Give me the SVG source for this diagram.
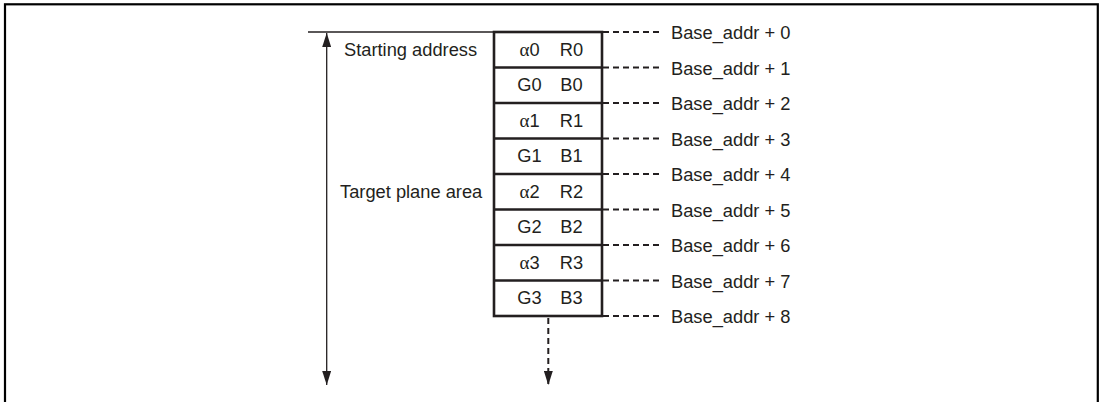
<svg xmlns="http://www.w3.org/2000/svg" width="1102" height="402" viewBox="0 0 1102 402">
<style>
text{font-family:"Liberation Sans",Arial,sans-serif;font-size:18.3px;fill:#231f20}
.cell{text-anchor:middle}
.a{font-family:"Liberation Serif","Times New Roman",serif;font-size:19px}
.box{fill:none;stroke:#231f20;stroke-width:2.6}
.dash{stroke:#231f20;stroke-width:2;stroke-dasharray:6 4;fill:none}
.thin{stroke:#231f20;stroke-width:1.3;fill:none}
</style>
<defs>
<marker id="ah" viewBox="0 0 14 9" refX="14" refY="4.5" markerWidth="14" markerHeight="9" markerUnits="userSpaceOnUse" orient="auto">
<path d="M0,0 L14,4.5 L0,9 Z" fill="#231f20"/>
</marker>
</defs>
<rect x="5" y="4.3" width="1092.8" height="420" fill="none" stroke="#000" stroke-width="2.2"/>
<g id="labels">
<text x="344" y="55.5">Starting address</text>
<text x="340" y="197.5">Target plane area</text>
</g>
<g id="memory">
<rect class="box" x="494" y="32" width="108" height="284"/>
<path class="box" d="M494,67.5H602M494,103H602M494,138.5H602M494,174H602M494,209.5H602M494,245H602M494,280.5H602"/>
<text class="cell" x="529.5" y="55.5"><tspan class="a">α</tspan>0</text><text class="cell" x="571.5" y="55.5">R0</text>
<text class="cell" x="529.5" y="91">G0</text><text class="cell" x="571.5" y="91">B0</text>
<text class="cell" x="529.5" y="126.5"><tspan class="a">α</tspan>1</text><text class="cell" x="571.5" y="126.5">R1</text>
<text class="cell" x="529.5" y="162">G1</text><text class="cell" x="571.5" y="162">B1</text>
<text class="cell" x="529.5" y="197.5"><tspan class="a">α</tspan>2</text><text class="cell" x="571.5" y="197.5">R2</text>
<text class="cell" x="529.5" y="233">G2</text><text class="cell" x="571.5" y="233">B2</text>
<text class="cell" x="529.5" y="268.5"><tspan class="a">α</tspan>3</text><text class="cell" x="571.5" y="268.5">R3</text>
<text class="cell" x="529.5" y="304">G3</text><text class="cell" x="571.5" y="304">B3</text>
</g>
<g id="addresses">
<text x="671" y="39.3">Base_addr + 0</text>
<text x="671" y="74.8">Base_addr + 1</text>
<text x="671" y="110.3">Base_addr + 2</text>
<text x="671" y="145.8">Base_addr + 3</text>
<text x="671" y="181.3">Base_addr + 4</text>
<text x="671" y="216.8">Base_addr + 5</text>
<text x="671" y="252.3">Base_addr + 6</text>
<text x="671" y="287.8">Base_addr + 7</text>
<text x="671" y="323.3">Base_addr + 8</text>
</g>
<g id="connectors">
<path class="thin" d="M308,32H494"/>
<path class="thin" d="M326.7,200V33" marker-end="url(#ah)"/>
<path class="thin" d="M326.7,200V385" marker-end="url(#ah)"/>
<path class="dash" d="M548.3,318V385" stroke-width="1.5" marker-end="url(#ah)"/>
<path class="dash" d="M603,32H662M603,67.5H662M603,103H662M603,138.5H662M603,174H662M603,209.5H662M603,245H662M603,280.5H662M603,316H662"/>
</g>
</svg>
